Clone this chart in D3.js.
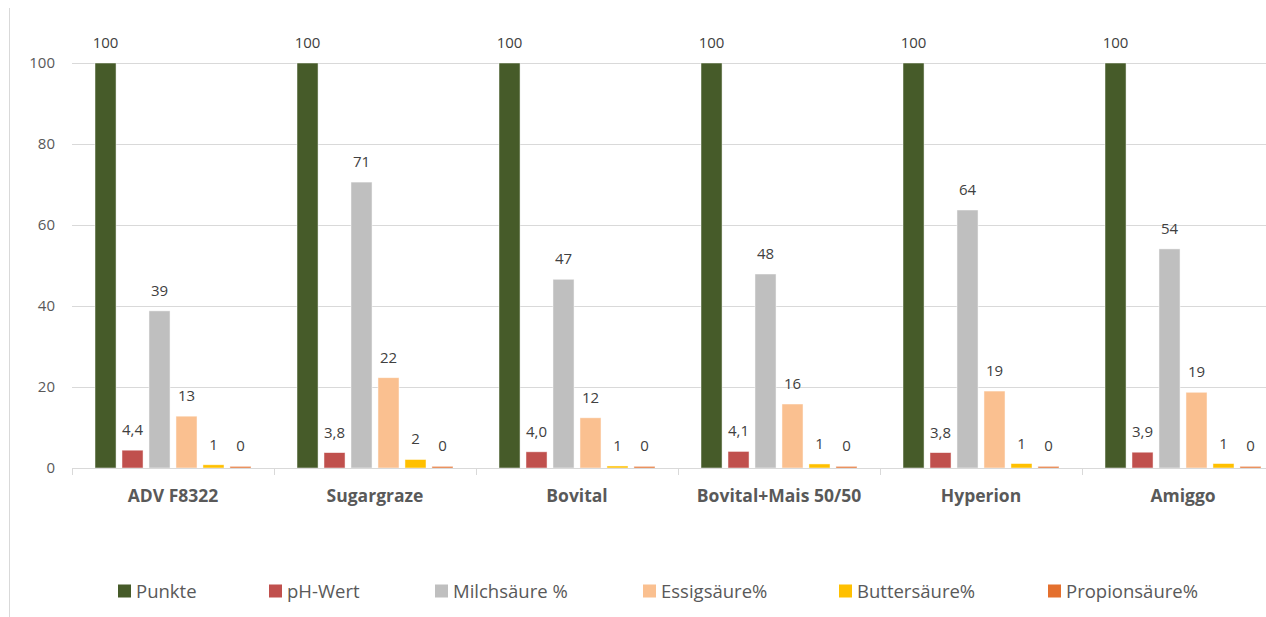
<!DOCTYPE html>
<html>
<head>
<meta charset="utf-8">
<script src="https://cdn.jsdelivr.net/npm/d3@7"></script>
<style>
  body { margin: 0; background: #fff; }
  svg { font-family: "Open Sans", "Noto Sans", sans-serif; }
</style>
</head>
<body>
<div id="chart"></div>
<script>
// data
var categories = ["ADV F8322", "Sugargraze", "Bovital", "Bovital+Mais 50/50", "Hyperion", "Amiggo"];
var seriesNames = ["Punkte", "pH-Wert", "Milchsäure %", "Essigsäure%", "Buttersäure%", "Propionsäure%"];
var punkte = [100, 100, 100, 100, 100, 100];
var phWert = [4.4, 3.8, 4.0, 4.1, 3.8, 3.9];
var milchsaeure = [38.8, 70.6, 46.6, 47.9, 63.7, 54.1];
var essigsaeure = [12.8, 22.3, 12.4, 15.8, 19.0, 18.7];
var buttersaeure = [0.8, 2.1, 0.5, 1.0, 1.1, 1.1];
var propionsaeure = [0.4, 0.4, 0.4, 0.4, 0.4, 0.4];
var yTicks = [0, 20, 40, 60, 80, 100];

var seriesValues = [punkte, phWert, milchsaeure, essigsaeure, buttersaeure, propionsaeure];
var colors = ["#465b29", "#c0504d", "#bfbfbf", "#fac090", "#ffc000", "#e4702e"];

var svgWidth = 1266, svgHeight = 617;
var plotLeft = 72, bandW = 202;
var y0 = 468, y100 = 63;

var svg = d3.select("#chart").append("svg")
    .attr("width", svgWidth)
    .attr("height", svgHeight);

// chart frame left edge
svg.append("line")
    .attr("x1", 9.5).attr("x2", 9.5)
    .attr("y1", 8).attr("y2", svgHeight)
    .attr("stroke", "#d9d9d9");

var x0 = d3.scaleBand()
    .domain(categories)
    .range([plotLeft, plotLeft + bandW * categories.length]);

var x1 = d3.scaleBand()
    .domain(seriesNames)
    .range([23, bandW - 23])
    .paddingInner(0.22);

var yScale = d3.scaleLinear()
    .domain([0, 100])
    .range([y0, y100]);

// gridlines
svg.append("g")
    .selectAll("line")
    .data(yTicks.filter(d => d > 0))
    .enter()
    .append("line")
    .attr("x1", plotLeft)
    .attr("x2", svgWidth)
    .attr("y1", d => Math.round(yScale(d)) + 0.5)
    .attr("y2", d => Math.round(yScale(d)) + 0.5)
    .attr("stroke", "#d9d9d9");

// y axis labels
var yAxis = d3.axisLeft(yScale).tickValues(yTicks).tickSize(0).tickPadding(17);
var yg = svg.append("g")
    .attr("transform", `translate(${plotLeft},0)`)
    .call(yAxis);
yg.select(".domain").remove();
yg.selectAll("text")
    .attr("font-size", "15px")
    .attr("fill", "#595959")
    .attr("font-family", "Open Sans, sans-serif");

// bars
var rows = categories.map(function(c, i) {
    return { cat: c, vals: seriesNames.map(function(s, j) { return { name: s, idx: j, v: seriesValues[j][i] }; }) };
});

var groups = svg.append("g")
    .selectAll("g")
    .data(rows)
    .enter()
    .append("g")
    .attr("transform", d => `translate(${x0(d.cat)},0)`);

groups.selectAll("rect")
    .data(d => d.vals)
    .enter()
    .append("rect")
    .attr("x", d => x1(d.name))
    .attr("y", d => yScale(d.v))
    .attr("width", x1.bandwidth())
    .attr("height", d => yScale(0) - yScale(d.v))
    .attr("fill", d => colors[d.idx])
    .attr("stroke", "#ffffff")
    .attr("stroke-opacity", 0.6)
    .attr("stroke-width", 0.8);

groups.selectAll("text")
    .data(d => d.vals)
    .enter()
    .append("text")
    .attr("x", d => x1(d.name) + x1.bandwidth() / 2)
    .attr("y", d => yScale(d.v) - 15)
    .attr("text-anchor", "middle")
    .attr("font-size", "15px")
    .attr("fill", "#404040")
    .text(d => d.idx === 1 ? d.v.toFixed(1).replace(".", ",") : Math.round(d.v));

// x axis
var xAxis = d3.axisBottom(x0).tickSize(0).tickPadding(21);
var xg = svg.append("g")
    .attr("transform", `translate(0,${y0 + 0.5})`)
    .call(xAxis);
xg.select(".domain").attr("stroke", "#d9d9d9").attr("d", `M${plotLeft},0H${svgWidth}`);
xg.selectAll("text")
    .attr("font-size", "17.5px")
    .attr("font-weight", "bold")
    .attr("fill", "#595959")
    .attr("font-family", "Open Sans, sans-serif");

// boundary ticks between categories
svg.append("g")
    .selectAll("line")
    .data(categories)
    .enter()
    .append("line")
    .attr("x1", d => x0(d) + 0.5)
    .attr("x2", d => x0(d) + 0.5)
    .attr("y1", y0)
    .attr("y2", y0 + 7)
    .attr("stroke", "#d9d9d9");

// legend
var legendX = [118, 269, 435, 643, 839, 1048];
var legend = svg.append("g")
    .selectAll("g")
    .data(seriesNames)
    .enter()
    .append("g")
    .attr("transform", (d, i) => `translate(${legendX[i]},591)`);

legend.append("rect")
    .attr("x", 0)
    .attr("y", -6.5)
    .attr("width", 13)
    .attr("height", 13)
    .attr("fill", (d, i) => colors[i]);

legend.append("text")
    .attr("x", 18)
    .attr("y", 7)
    .attr("font-size", "18.5px")
    .attr("fill", "#595959")
    .text(d => d);
</script>
</body>
</html>
